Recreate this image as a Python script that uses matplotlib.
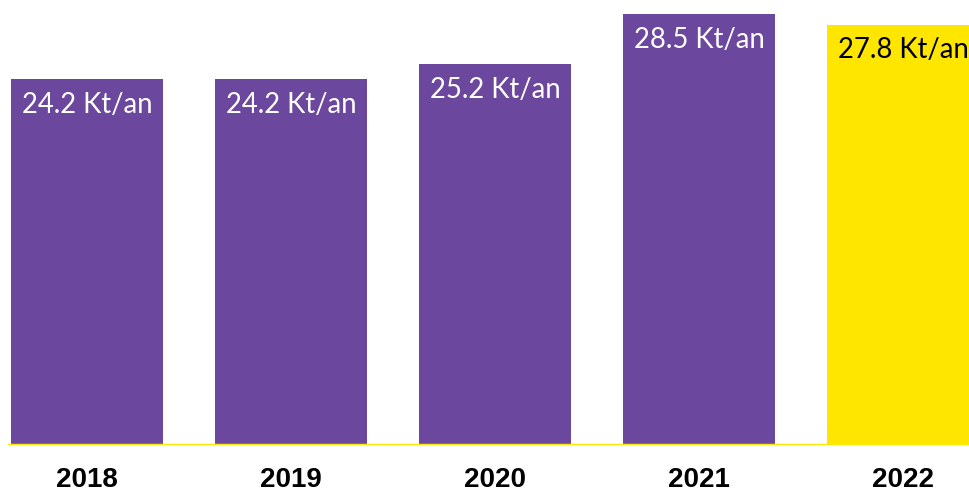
import matplotlib
matplotlib.use("Agg")
import matplotlib.pyplot as plt

years = ["2018", "2019", "2020", "2021", "2022"]
values = [24.2, 24.2, 25.2, 28.5, 27.8]
labels = ["24.2 Kt/an", "24.2 Kt/an", "25.2 Kt/an", "28.5 Kt/an", "27.8 Kt/an"]

purple = "#6B489D"
yellow = "#FFE600"
colors = [purple, purple, purple, purple, yellow]
text_colors = ["white", "white", "white", "white", "black"]

fig = plt.figure(figsize=(9.7, 4.92), dpi=100)
ax = fig.add_axes([8 / 970, 47 / 492, 962 / 970, 445 / 492])

x = list(range(len(years)))
ax.bar(x, values, width=0.745, color=colors, zorder=2)

# etiquettes dans les barres
for i, v in enumerate(values):
    ax.annotate(labels[i], (x[i], v), xytext=(0, -18.5), textcoords="offset points",
                ha="center", va="center", fontsize=19.8, color=text_colors[i],
                family="Lato", zorder=3)

ax.axhline(0, color=yellow, lw=2.5, zorder=4)

ax.set_xlim(-0.387, 4.328)
ax.set_ylim(0, 29.43)
ax.set_xticks(x)
ax.set_xticklabels(years, fontsize=20, fontweight="bold", family="Liberation Sans")
ax.tick_params(axis="x", length=0, pad=16)
ax.set_yticks([])
for s in ax.spines.values():
    s.set_visible(False)

fig.savefig("out.png", dpi=100)
